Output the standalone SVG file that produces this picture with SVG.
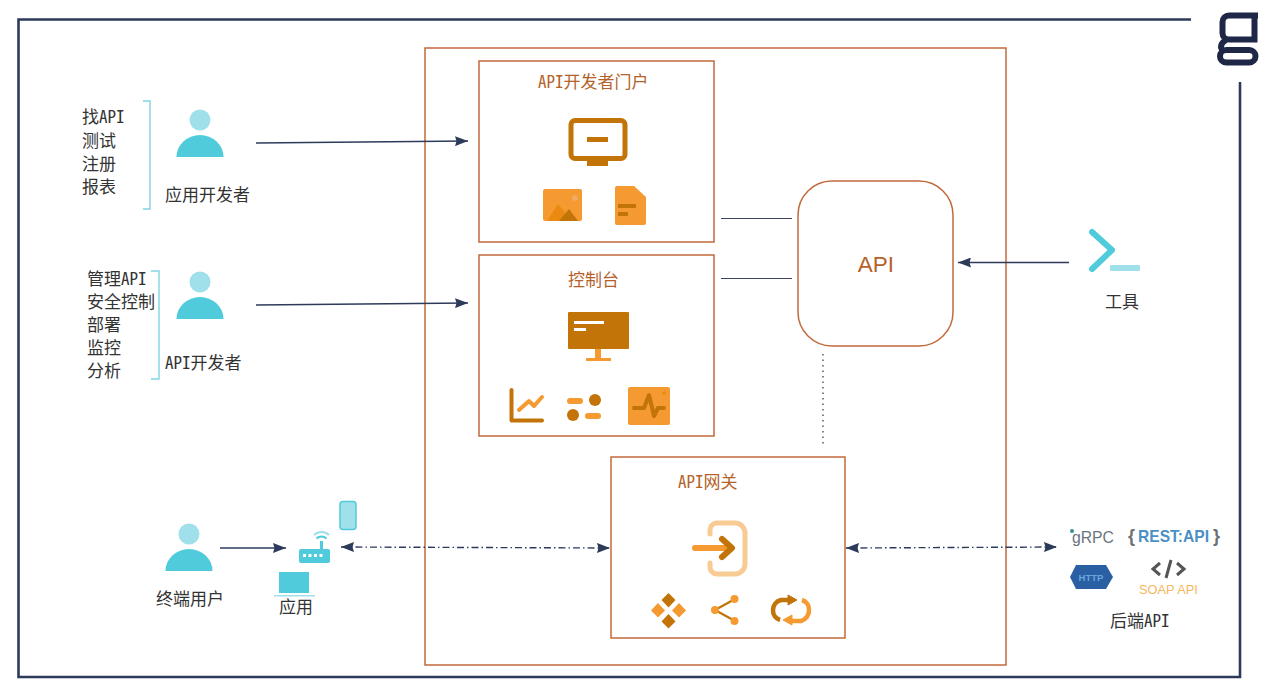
<svg xmlns="http://www.w3.org/2000/svg" width="1268" height="691" viewBox="0 0 1268 691">
<style>
text{font-family:"Noto Sans CJK SC","Liberation Sans",sans-serif;font-size:17px;fill:#333;font-feature-settings:"hwid"}
.o{fill:#b5622a}
.s{font-family:"Liberation Sans",sans-serif;font-feature-settings:normal}
.box{fill:#fff;stroke:#c2693a;stroke-width:1.5}
.frame{fill:none;stroke:#2d3a5a;stroke-width:2.6}
.line{fill:none;stroke:#2d3a5a;stroke-width:1.4}
.dash{stroke-dasharray:7 3 1.5 3}
.thin{fill:none;stroke:#3b4560;stroke-width:1}
.br{fill:none;stroke:#7fd6e2;stroke-width:1.4}
.d{fill:#c27408}.l{fill:#f59a30}.t{fill:#4fcbdc}.p{fill:#9fe0ea}
</style>
<defs>
<marker id="ah" markerUnits="userSpaceOnUse" markerWidth="14" markerHeight="10" refX="13" refY="5" orient="auto-start-reverse"><path d="M0 0L13 5L0 10L1.500 5Z" fill="#2d3a5a"/></marker>
<g id="person"><circle cx="24" cy="11" r="10.5" class="p"/><path d="M0.5 48a23.500 22 0 0 1 47 0Z" class="t"/></g>
</defs>

<g id="frame">
<path class="frame" d="M1191 19.500H18.500V677H1240V82"/>
<g fill="none" stroke="#1f2747" stroke-width="6"><path d="M1258 15.500H1229a6.500 6.500 0 0 0-6.500 6.500V33a6.500 6.500 0 0 0 6.500 6.500H1254.500V15.500"/><path d="M1226 40Q1218 45 1223 51"/><rect x="1220" y="50" width="35.500" height="12.500" rx="6.250"/></g>
</g>

<g id="platform"><rect class="box" x="425" y="48" width="581" height="617"/></g>

<g id="connectors">
<path class="line" marker-end="url(#ah)" d="M256 143L468 141"/>
<path class="line" marker-end="url(#ah)" d="M256 305L468 303"/>
<path class="line" marker-end="url(#ah)" d="M220 548H286"/>
<path class="line dash" marker-start="url(#ah)" marker-end="url(#ah)" d="M341 547L610 548"/>
<path class="line dash" marker-start="url(#ah)" marker-end="url(#ah)" d="M846 548L1057 547"/>
<path class="line" marker-end="url(#ah)" d="M1069 262.500H958"/>
<path class="thin" d="M721 218.500H792M721 278.500H792"/>
<path d="M823 354V444" fill="none" stroke="#333" stroke-width="1.200" stroke-dasharray="1.500 4"/>
</g>

<g id="portal">
<rect class="box" x="479" y="61" width="235" height="181"/>
<text x="538" y="88" class="o">API开发者门户</text>
<rect x="571" y="120.500" width="54" height="38" rx="4" fill="none" stroke="#c27408" stroke-width="5"/>
<rect x="587" y="137" width="21" height="5" class="d"/><rect x="587" y="158" width="21" height="8" class="d"/>
<rect x="543" y="189" width="39" height="32" rx="2" class="l"/>
<path d="M547 221L558 204L572 221Z" fill="#ea8a10"/><path d="M559 221L569 209L578 221Z" class="d"/><circle cx="575" cy="198" r="3" fill="#f0ab5e"/>
<path d="M615 188a2 2 0 0 1 2-2H634L646 197V223a2 2 0 0 1-2 2H617a2 2 0 0 1-2-2Z" class="l"/>
<rect x="618" y="204" width="18" height="4" class="d"/><rect x="618" y="212" width="10" height="4" class="d"/>
</g>

<g id="console">
<rect class="box" x="479" y="255" width="235" height="181"/>
<text x="568" y="286" class="o">控制台</text>
<rect x="568" y="312" width="61" height="37" rx="1" class="d"/>
<rect x="574" y="321" width="30" height="3" fill="#fff"/><rect x="574" y="328" width="12" height="3" fill="#fff"/>
<rect x="595" y="349" width="6" height="11" class="l"/><rect x="586" y="358" width="25" height="3" class="l"/>
<path d="M511.500 390V420.500H542" fill="none" stroke="#c27408" stroke-width="4" stroke-linecap="round" stroke-linejoin="round"/>
<path d="M519 410L529 401L534 406L542 397" fill="none" stroke="#f59a30" stroke-width="4" stroke-linecap="round" stroke-linejoin="round"/>
<rect x="567" y="398" width="16" height="6" rx="3" class="l"/><circle cx="595" cy="400" r="6" class="d"/>
<circle cx="573" cy="415" r="6" class="d"/><rect x="585" y="413" width="16" height="6" rx="3" class="l"/>
<rect x="628" y="387" width="42" height="38" rx="2" class="l"/><circle cx="664" cy="393" r="1.800" fill="#ea8a10"/>
<path d="M634 408H644L649 395L654 416L658 408H664" fill="none" stroke="#c27408" stroke-width="4" stroke-linecap="round" stroke-linejoin="round"/>
</g>

<g id="gateway">
<rect class="box" x="611" y="457" width="234" height="181"/>
<text x="678" y="488" class="o">API网关</text>
<path d="M710 534V530a7 7 0 0 1 7-7H735a10 10 0 0 1 10 10V564a10 10 0 0 1-10 10H717a7 7 0 0 1-7-7V563" fill="none" stroke="#f8cb94" stroke-width="5" stroke-linecap="round"/>
<path d="M695 548H726" stroke="#f59a30" stroke-width="6" stroke-linecap="round"/>
<path d="M722 539L732 548L722 557" fill="none" stroke="#c27408" stroke-width="6" stroke-linecap="round" stroke-linejoin="round"/>
<g class="d"><path d="M668.500 593L675.500 600L668.500 607.500L661.500 600Z"/><path d="M668.500 614L675.500 621.500L668.500 628.500L661.500 621.500Z"/></g>
<g class="l"><path d="M658 603L665 610.500L658 617.500L651 610.500Z"/><path d="M679 603L686 610.500L679 617.500L672 610.500Z"/></g>
<path d="M715 610L735 599M715 610L735 621" stroke="#c27408" stroke-width="2.200"/>
<circle cx="715" cy="610" r="4" class="l"/><circle cx="734.500" cy="599" r="4" class="l"/><circle cx="734.500" cy="621" r="4" class="l"/>
<path d="M780 620a10 10 0 0 1-7-10a10 10 0 0 1 8-10H790" fill="none" stroke="#c27408" stroke-width="4.500"/>
<path d="M788 595L797 600L788 605Z" fill="#c27408" stroke="#c27408" stroke-width="1"/>
<path d="M802 600a10 10 0 0 1 7 10a11 11 0 0 1-8 11H790" fill="none" stroke="#f59a30" stroke-width="4.500"/>
<path d="M792 615L783 620L792 625Z" fill="#f59a30" stroke="#f59a30" stroke-width="1"/>
</g>

<g id="api"><rect class="box" x="798" y="181" width="155" height="165" rx="34"/>
<text x="876" y="272" text-anchor="middle" class="s" style="font-size:22.500px;fill:#b5622a">API</text></g>

<g id="tool">
<path d="M1092 232L1112 250L1092 269" fill="none" stroke="#4fcbdc" stroke-width="6" stroke-linecap="round" stroke-linejoin="round"/>
<rect x="1110" y="265" width="30" height="6" rx="1" class="p"/>
<text x="1105" y="308">工具</text>
</g>

<g id="app-developer">
<use href="#person" x="176" y="109"/>
<path class="br" d="M143 101H150V209H143"/>
<text x="82" y="123">找API</text>
<text x="82" y="147">测试</text><text x="82" y="170">注册</text><text x="82" y="193">报表</text>
<text x="165" y="201">应用开发者</text>
</g>

<g id="api-developer">
<use href="#person" x="176" y="271"/>
<path class="br" d="M151 271H159V379H151"/>
<text x="87" y="285">管理API</text>
<text x="87" y="308">安全控制</text><text x="87" y="331">部署</text><text x="87" y="354">监控</text><text x="87" y="377">分析</text>
<text x="165" y="369">API开发者</text>
</g>

<g id="end-user">
<use href="#person" x="165" y="523"/>
<text x="156" y="605">终端用户</text>
</g>

<g id="app">
<rect x="340" y="501.500" width="16" height="28" rx="3" fill="#9fe0ea" stroke="#4fcbdc" stroke-width="1.500"/>
<rect x="299" y="549" width="31" height="14" rx="2" class="t"/><rect x="320" y="541" width="3" height="9" class="t"/>
<path d="M316.500 538.500a7 7 0 0 1 10 0" fill="none" stroke="#4fcbdc" stroke-width="2"/>
<path d="M314 535a11 11 0 0 1 15 0" fill="none" stroke="#9fe0ea" stroke-width="2"/>
<rect x="303" y="554" width="3" height="3" fill="#fff"/><rect x="308.500" y="554" width="3" height="3" fill="#fff"/><rect x="314" y="554" width="3" height="3" fill="#fff"/><rect x="319.500" y="554" width="3" height="3" fill="#fff"/>
<rect x="279" y="572" width="30" height="21" class="t"/><rect x="274" y="595" width="41" height="1.500" class="p"/>
<text x="279" y="613">应用</text>
</g>

<g id="backend-api">
<circle cx="1072" cy="531" r="2" fill="#3a8f8f"/>
<text x="1072" y="543" class="s" textLength="42" lengthAdjust="spacingAndGlyphs" style="font-size:17px;fill:#6a7580">gRPC</text>
<text x="1128" y="542" class="s" style="font-size:18px;font-weight:700;fill:#6b7075">{</text>
<text x="1138" y="542" class="s" textLength="71" lengthAdjust="spacingAndGlyphs" style="font-size:17px;font-weight:700;fill:#4a90c4">REST:API</text>
<text x="1213" y="542" class="s" style="font-size:18px;font-weight:700;fill:#6b7075">}</text>
<path d="M1076 565H1106L1113 577L1106 589H1076L1070 577Z" fill="#2b5fa3"/>
<text x="1091" y="581" text-anchor="middle" class="s" style="font-size:9.500px;font-weight:700;fill:#6aa5dd">HTTP</text>
<path d="M1160 563L1153 569L1160 575M1177 563L1184 569L1177 575M1171 560L1166 578" fill="none" stroke="#555" stroke-width="3"/>
<text x="1139" y="594" class="s" style="font-size:12.800px;fill:#f4b860">SOAP API</text>
<text x="1110" y="627">后端API</text>
</g>
</svg>
